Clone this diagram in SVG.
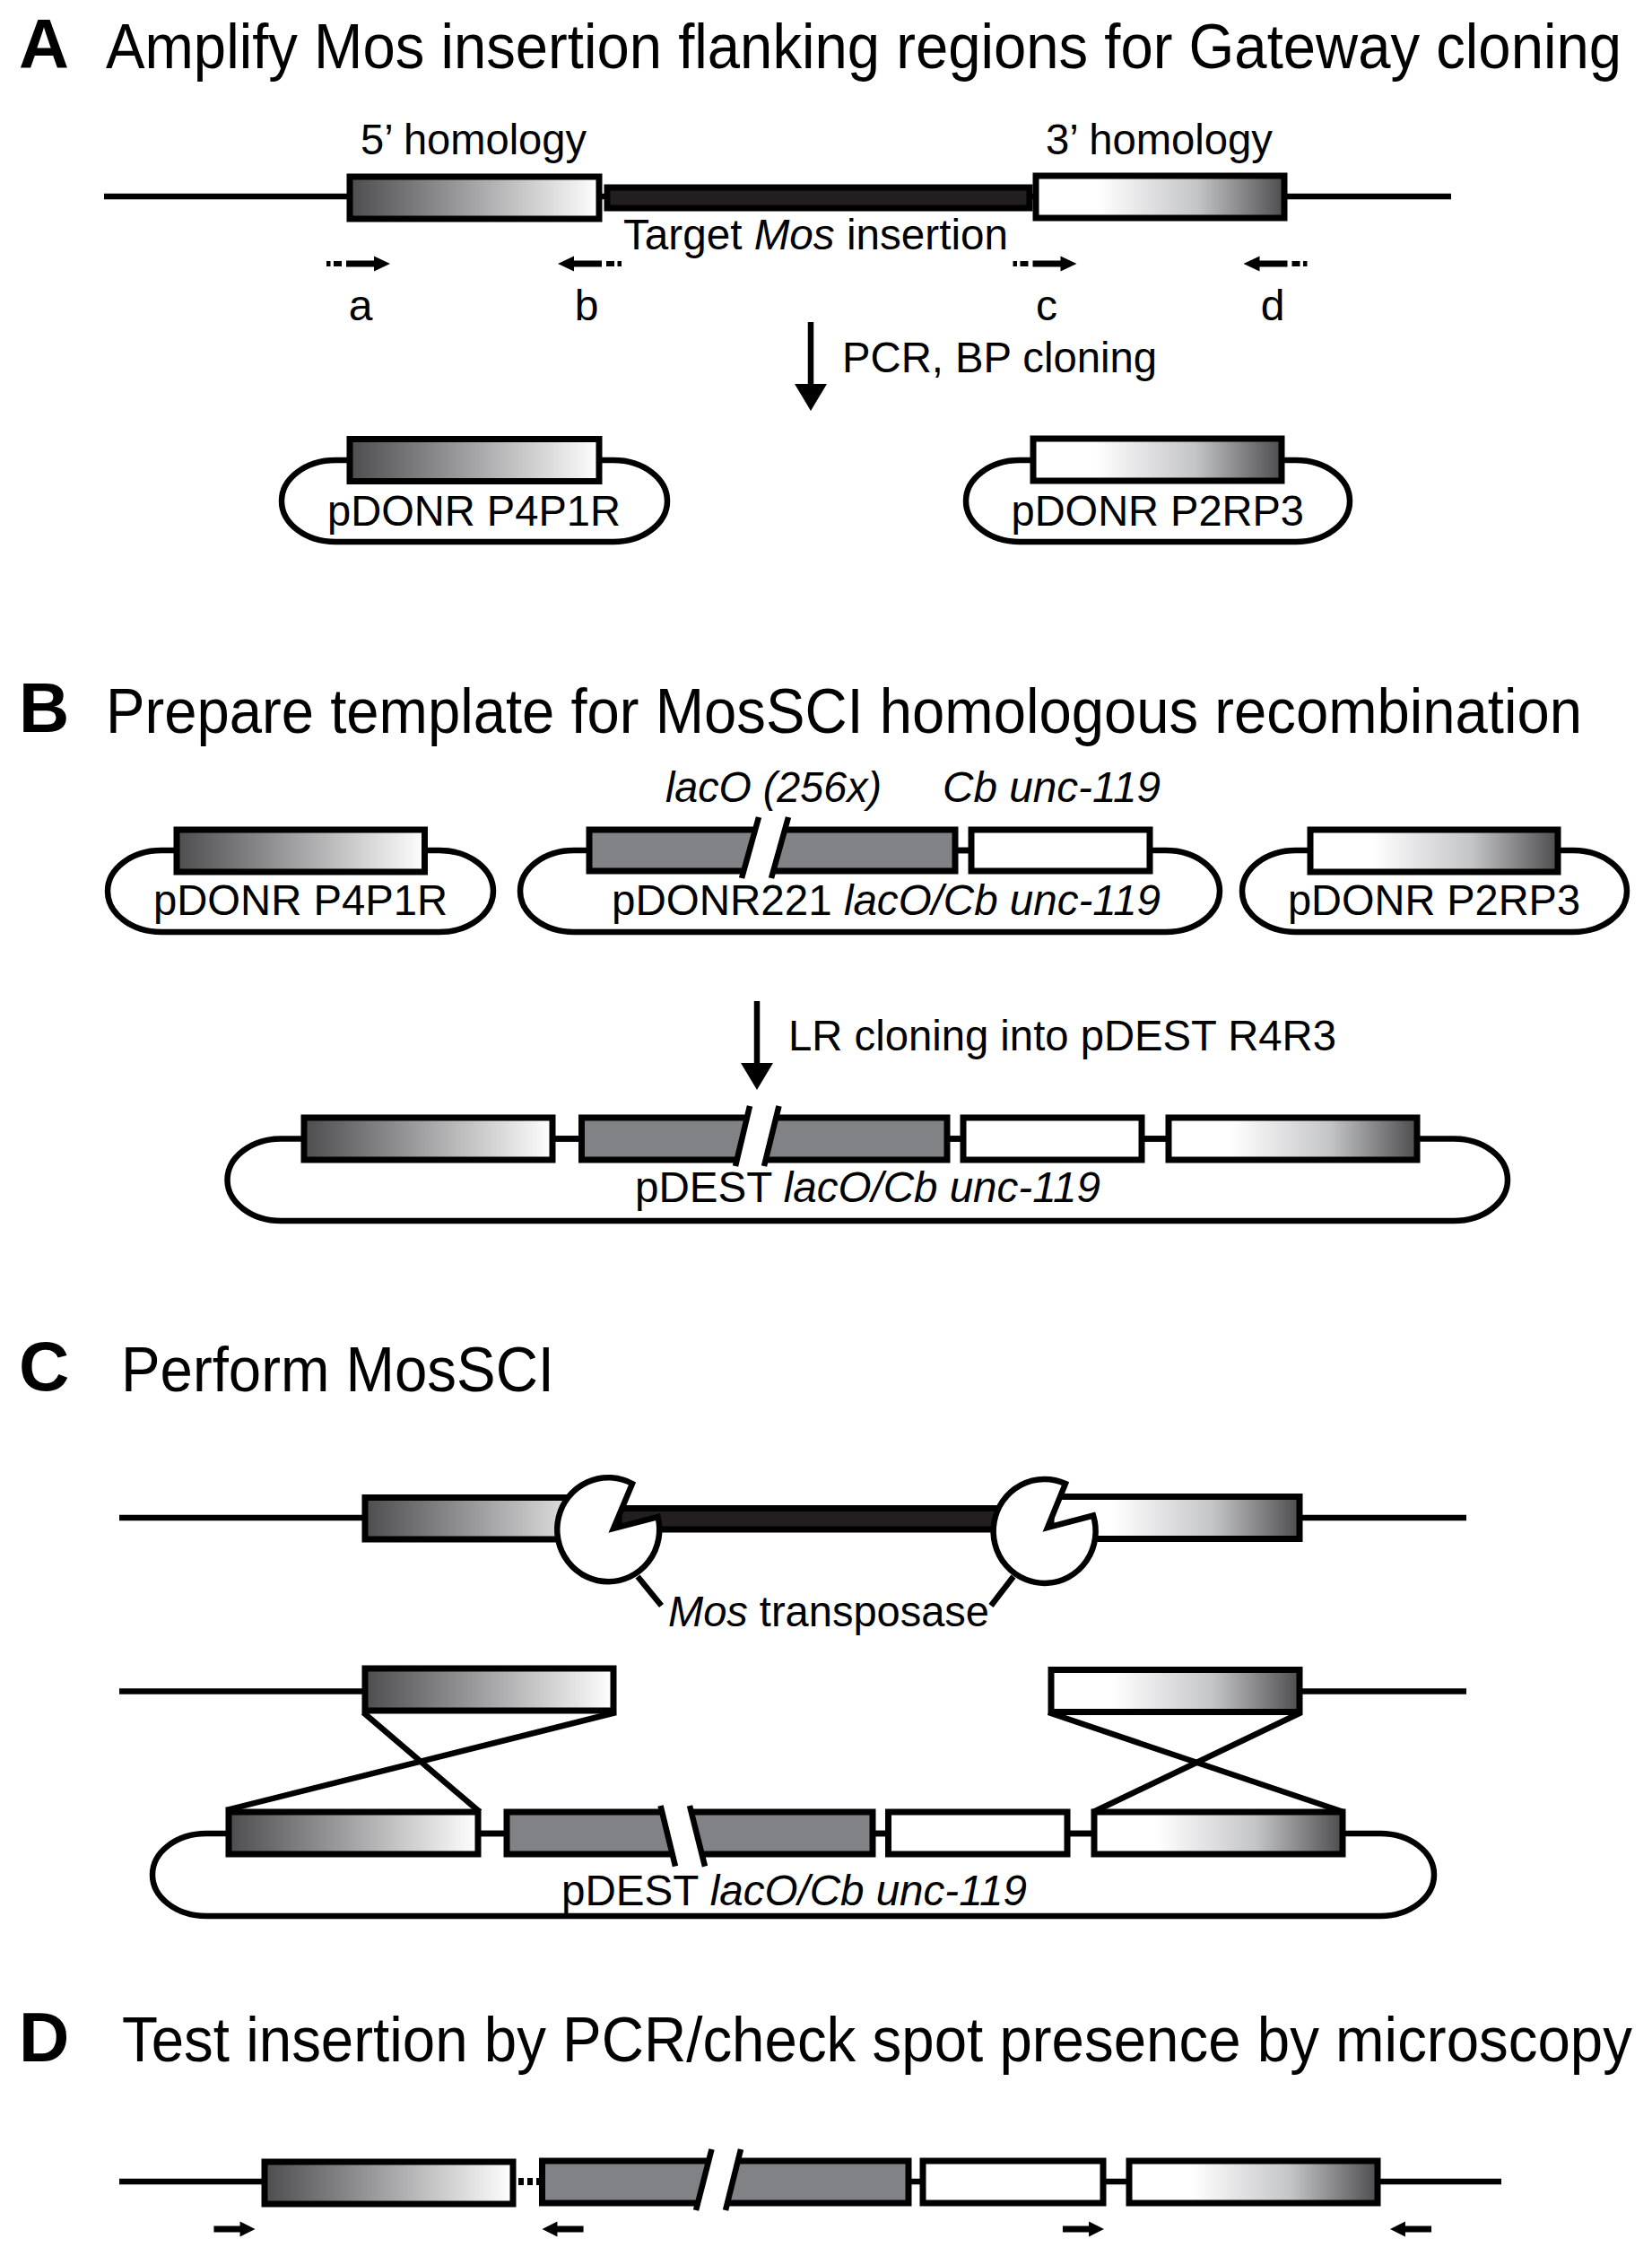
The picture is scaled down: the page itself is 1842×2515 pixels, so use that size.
<svg xmlns="http://www.w3.org/2000/svg" xmlns:xlink="http://www.w3.org/1999/xlink" width="1842" height="2515" viewBox="0 0 1842 2515">
<defs>
<linearGradient id="gL"><stop offset="0" stop-color="#4d4d4f"/><stop offset="0.35" stop-color="#8a8a8c"/><stop offset="1" stop-color="#ffffff"/></linearGradient>
<linearGradient id="gR"><stop offset="0" stop-color="#ffffff"/><stop offset="0.25" stop-color="#ffffff"/><stop offset="0.65" stop-color="#c4c5c7"/><stop offset="1" stop-color="#4d4d4f"/></linearGradient>
<marker id="bigHead" markerUnits="userSpaceOnUse" markerWidth="38" markerHeight="32" refX="2" refY="18" orient="auto" overflow="visible"><path d="M0,0 L30,18 L0,36 Z" fill="#000"/></marker>
<g id="pr"><path d="M-49,-3.500 H-18 V-8.500 L0,0 L-18,8.500 V3.500 H-49 Z" fill="#000"/></g>
<g id="prd"><path d="M-71,-3 h4.500 v6 h-4.500 Z M-63,-3 h9 v6 h-9 Z" fill="#000"/></g>
</defs>
<style>
text{font-family:"Liberation Sans",Arial,sans-serif;fill:#000;white-space:pre}
.h{font-size:64px}.l{font-size:78px;font-weight:700}.t{font-size:48px}.i{font-style:italic}
.b{stroke:#000;stroke-width:7}.gl{fill:url(#gL)}.gr{fill:url(#gR)}.g{fill:#808285}.w{fill:#fff}.k{fill:#231f20}
.ln{stroke:#000;stroke-width:6.500;fill:none}
.p{stroke:#000;stroke-width:6.500;fill:#fff}
.brk{stroke:none;fill:#fff}
.sl{stroke:#000;stroke-width:6.500;fill:none}
.dot{stroke:#000;stroke-width:8;fill:none;stroke-dasharray:6 4}
</style>
<rect width="1842" height="2515" fill="#fff"/>

<g id="titles">
<text class="l" x="21" y="76" textLength="56" lengthAdjust="spacingAndGlyphs">A</text>
<text class="h" transform="translate(118,76) scale(1,1.1)" textLength="1690" lengthAdjust="spacingAndGlyphs">Amplify Mos insertion flanking regions for Gateway cloning</text>
<text class="l" x="21" y="816">B</text>
<text class="h" transform="translate(118,816.500) scale(1,1.1)" textLength="1646" lengthAdjust="spacingAndGlyphs">Prepare template for MosSCI homologous recombination</text>
<text class="l" x="21" y="1550">C</text>
<text class="h" transform="translate(135,1551) scale(1,1.1)" textLength="483" lengthAdjust="spacingAndGlyphs">Perform MosSCI</text>
<text class="l" x="21" y="2298">D</text>
<text class="h" transform="translate(136,2298) scale(1,1.1)" textLength="1684" lengthAdjust="spacingAndGlyphs">Test insertion by PCR/check spot presence by microscopy</text>
</g>

<g id="a-locus">
<rect class="b gl" x="390" y="197" width="278" height="47"/>
<rect class="b k" x="677" y="209" width="471" height="23"/>
<rect class="b gr" x="1155" y="196" width="277" height="47"/>
<text class="t" x="402" y="172" textLength="252" lengthAdjust="spacingAndGlyphs">5’ homology</text>
<text class="t" x="1166" y="172" textLength="253" lengthAdjust="spacingAndGlyphs">3’ homology</text>
<text class="t" x="695" y="278" textLength="429" lengthAdjust="spacingAndGlyphs">Target <tspan class="i">Mos</tspan> insertion</text>
</g>

<g id="a-primers">
<use xlink:href="#pr" href="#pr" transform="translate(435,294)"/><use xlink:href="#prd" href="#prd" transform="translate(435,294)"/>
<use xlink:href="#pr" href="#pr" transform="translate(622,294) scale(-1,1)"/><use xlink:href="#prd" href="#prd" transform="translate(622,294) scale(-1,1)"/>
<use xlink:href="#pr" href="#pr" transform="translate(1200.500,294)"/><use xlink:href="#prd" href="#prd" transform="translate(1200.500,294)"/>
<use xlink:href="#pr" href="#pr" transform="translate(1386.500,294) scale(-1,1)"/><use xlink:href="#prd" href="#prd" transform="translate(1386.500,294) scale(-1,1)"/>
<text class="t" x="402" y="357" text-anchor="middle">a</text>
<text class="t" x="654" y="357" text-anchor="middle">b</text>
<text class="t" x="1167" y="357" text-anchor="middle">c</text>
<text class="t" x="1419" y="357" text-anchor="middle">d</text>
</g>
<text class="t" x="939" y="415" textLength="351" lengthAdjust="spacingAndGlyphs">PCR, BP cloning</text>

<g id="a-pdonr-p4p1r">
<rect class="p" x="314" y="513" width="430" height="91" rx="60" ry="45.500"/>
<rect class="b gl" x="390" y="489.500" width="278" height="47"/>
<text class="t" x="365" y="586" textLength="327" lengthAdjust="spacingAndGlyphs">pDONR P4P1R</text>
</g>
<g id="a-pdonr-p2rp3">
<rect class="p" x="1077" y="513" width="428" height="91" rx="60" ry="45.500"/>
<rect class="b gr" x="1152" y="489" width="277" height="47"/>
<text class="t" x="1127.500" y="586" textLength="326.500" lengthAdjust="spacingAndGlyphs">pDONR P2RP3</text>
</g>

<g id="b-labels">
<text class="t i" x="742" y="894" textLength="241" lengthAdjust="spacingAndGlyphs">lacO (256x)</text>
<text class="t i" x="1051" y="894" textLength="243" lengthAdjust="spacingAndGlyphs">Cb unc-119</text>
<text class="t" x="879" y="1171" textLength="611" lengthAdjust="spacingAndGlyphs">LR cloning into pDEST R4R3</text>
</g>
<g id="b-pdonr-p4p1r">
<rect class="p" x="120" y="948" width="430" height="91" rx="60" ry="45.500"/>
<rect class="b gl" x="197" y="925" width="276.500" height="47"/>
<text class="t" x="171" y="1020" textLength="328" lengthAdjust="spacingAndGlyphs">pDONR P4P1R</text>
</g>
<g id="b-pdonr221">
<rect class="p" x="580" y="948" width="780" height="91" rx="60" ry="45.500"/>
<rect class="b g" x="657" y="925" width="408" height="46"/>
<polygon class="brk" points="846,911 879,911 860,979 827,979"/>
<path class="sl" d="M846,911L827,979M879,911L860,979"/>
<rect class="b w" x="1083" y="925" width="199" height="46"/>
<text class="t" x="682" y="1020" textLength="612" lengthAdjust="spacingAndGlyphs">pDONR221 <tspan class="i">lacO/Cb unc-119</tspan></text>
</g>
<g id="b-pdonr-p2rp3">
<rect class="p" x="1385" y="948" width="429" height="91" rx="60" ry="45.500"/>
<rect class="b gr" x="1461" y="925" width="276" height="47"/>
<text class="t" x="1436" y="1020" textLength="326" lengthAdjust="spacingAndGlyphs">pDONR P2RP3</text>
</g>
<g id="b-pdest">
<rect class="p" x="253.500" y="1269.500" width="1427.500" height="91.500" rx="60" ry="45.750"/>
<rect class="b gl" x="339" y="1246" width="277" height="47"/>
<rect class="b g" x="648.500" y="1246" width="407.500" height="47"/>
<polygon class="brk" points="836,1233 868.500,1233 852,1300 820,1300"/>
<path class="sl" d="M836,1233L820,1300M868.500,1233L852,1300"/>
<rect class="b w" x="1074" y="1246" width="199" height="47"/>
<rect class="b gr" x="1303" y="1246" width="277" height="47"/>
<text class="t" x="708" y="1340" textLength="519" lengthAdjust="spacingAndGlyphs">pDEST <tspan class="i">lacO/Cb unc-119</tspan></text>
</g>

<g id="c-target">
<rect class="b gl" x="407" y="1669.500" width="278" height="46.500"/>
<rect class="b gr" x="1172" y="1668.500" width="277" height="47"/>
<rect class="b k" x="690" y="1681.500" width="424" height="23.500"/>
</g>
<g id="c-transposase-left">
<path class="p" d="M684,1704 L705,1654 A57,58 0 1 0 733.500,1691 Z"/>
</g>
<g id="c-transposase-right">
<path class="p" d="M1168,1703 L1188,1654 A57,58 0 1 0 1219,1689.500 Z"/>
</g>
<text class="t" x="745" y="1813" textLength="358" lengthAdjust="spacingAndGlyphs"><tspan class="i">Mos</tspan> transposase</text>

<g id="c-homology-left"><rect class="b gl" x="407" y="1860" width="277" height="47"/></g>
<g id="c-homology-right"><rect class="b gr" x="1172" y="1861.500" width="277" height="47"/></g>
<g id="c-pdest">
<rect class="p" x="170" y="2044" width="1429" height="92" rx="60" ry="46"/>
<rect class="b gl" x="255" y="2020" width="278" height="47"/>
<rect class="b g" x="565" y="2020" width="408" height="47"/>
<polygon class="brk" points="736.500,2013 769,2013 786,2080.600 753,2080.600"/>
<path class="sl" d="M736.500,2013L753,2080.600M769,2013L786,2080.600"/>
<rect class="b w" x="990.500" y="2020" width="199.500" height="47"/>
<rect class="b gr" x="1220" y="2020" width="277" height="47"/>
<text class="t" x="626" y="2124" textLength="519" lengthAdjust="spacingAndGlyphs">pDEST <tspan class="i">lacO/Cb unc-119</tspan></text>
</g>

<g id="d-locus">
<rect class="b gl" x="295" y="2410" width="277" height="47"/>
<rect class="b g" x="604.500" y="2409" width="408.500" height="47"/>
<polygon class="brk" points="793.500,2396 826,2396 809,2464 776,2464"/>
<path class="sl" d="M793.500,2396L776,2464M826,2396L809,2464"/>
<rect class="b w" x="1029" y="2409" width="201" height="47"/>
<rect class="b gr" x="1259" y="2409" width="277" height="47"/>
</g>
<g id="d-primers">
<use xlink:href="#pr" href="#pr" transform="translate(284.500,2485) scale(0.94,1)"/>
<use xlink:href="#pr" href="#pr" transform="translate(604.500,2485) scale(-0.94,1)"/>
<use xlink:href="#pr" href="#pr" transform="translate(1231,2485) scale(0.94,1)"/>
<use xlink:href="#pr" href="#pr" transform="translate(1550,2485) scale(-0.94,1)"/>
</g>

<g id="connectors">
<path class="ln" d="M116,219H390M1432,219H1618M668,219H677M1148,219H1155"/>
<path class="ln" d="M904,359V430" marker-end="url(#bigHead)"/>
<path class="ln" d="M844,1116V1187" marker-end="url(#bigHead)"/>
<path class="ln" d="M1065,948H1083M616,1269.500H648.500M1056,1269.500H1074M1273,1269.500H1303"/>
<path class="ln" d="M133,1692H407M1449,1692H1635M133,1885.500H407M1449,1885.500H1635"/>
<path class="ln" d="M711,1757.500L737.500,1790M1130,1757.500L1105,1790"/>
<path class="ln" d="M405,1909L535,2020M687,1909L252,2018M1169,1909L1498,2020M1451,1909L1219,2020"/>
<path class="ln" d="M533,2044H565M973,2044H990.500M1190,2044H1220"/>
<path class="ln" d="M133,2432H295M1536,2432H1674M1013,2432H1029M1230,2432H1259"/>
<path class="dot" d="M578,2432H601"/>
</g>
</svg>
